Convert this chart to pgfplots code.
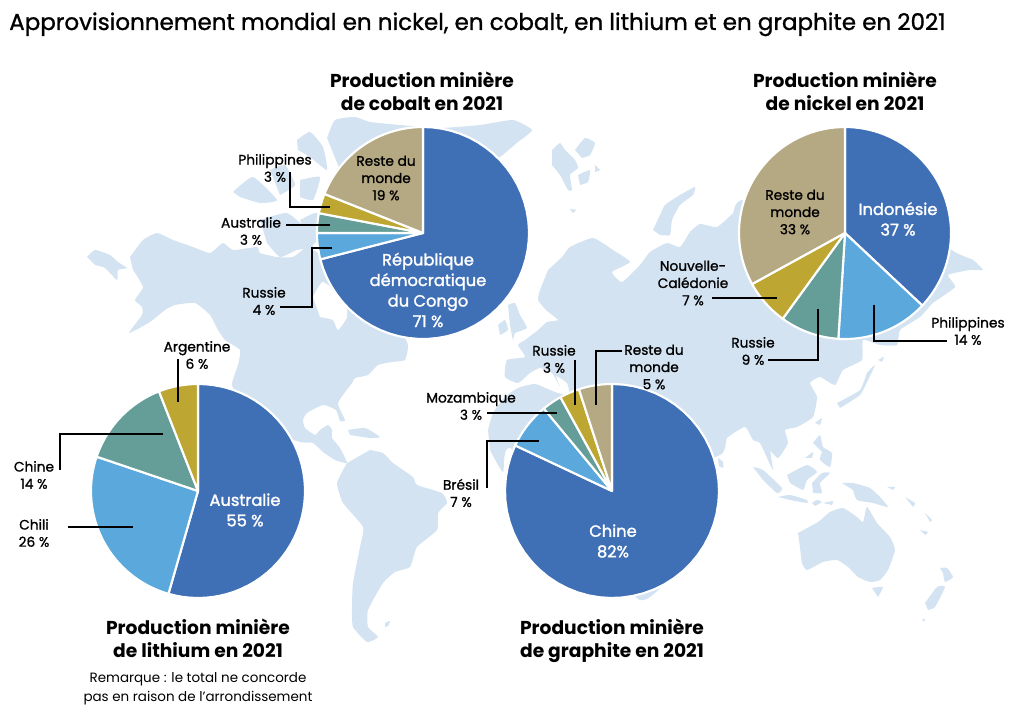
\documentclass[border=0pt]{standalone}
\usepackage{pgfplots}
\pgfplotsset{compat=1.18}
\usepackage{fontspec}
\setmainfont{Poppins}
\newfontfamily\medf[FakeBold=1.1]{Poppins}
\newfontfamily\semif[FakeBold=1.6]{Poppins}
\definecolor{mapb}{HTML}{D4E3F2}
\definecolor{pblue}{HTML}{3F6FB5}
\definecolor{plight}{HTML}{5AA8DC}
\definecolor{pteal}{HTML}{659E98}
\definecolor{pgold}{HTML}{BDA632}
\definecolor{ptan}{HTML}{B5A984}
% #1 cx, #2 cy, #3 r, #4 total, #5 colour, #6 from, #7 to (cumulative values)
\newcommand\slice[7]{\addplot[fill=#5,draw=white,line width=1.6pt,line join=round,domain=#6:#7,samples=50,variable=\t]
  ({#1+#3*sin(360*\t/#4)},{#2-#3*cos(360*\t/#4)}) -- (axis cs:#1,#2) -- cycle;}
\newcommand\terre[1]{\addplot[fill=mapb,draw=none,smooth,tension=0.3] coordinates {#1} -- cycle;}
\newcommand\mer[1]{\addplot[fill=white,draw=none,smooth,tension=0.3] coordinates {#1} -- cycle;}
\newcommand\fil[1]{\addplot[black,line width=2.1pt,line join=miter] coordinates {#1};}
\newcommand\lab[3]{\node[align=center,inner sep=0pt,font=\fontsize{10.3}{12.9}\selectfont\medf] at (axis cs:#1,#2) {#3};}
\newcommand\wlab[3]{\node[align=center,inner sep=0pt,text=white,font=\fontsize{12.2}{15.4}\selectfont\semif] at (axis cs:#1,#2) {#3};}
\newcommand\ttl[3]{\node[align=center,inner sep=0pt,font=\fontsize{14}{17.5}\selectfont\bfseries] at (axis cs:#1,#2) {#3};}
\begin{document}
\begin{tikzpicture}
\path[use as bounding box] (0,0) rectangle (760.5pt,534pt);
\begin{axis}[at={(0,0)},anchor=south west,scale only axis,width=760.5pt,height=534pt,
  xmin=0,xmax=1014,ymin=0,ymax=712,y dir=reverse,hide axis,clip=false]
% --- world map ---
\terre{(130,257)(143,240)(157,233)(173,240)(193,247)(210,253)(223,243)(233,250)(257,247)(260,253)(277,257)(293,257)(307,247)(317,252)(330,250)(420,260)(400,320)(408,345)(405,360)(392,362)(378,365)(368,375)(355,378)(352,383)(338,403)(345,420)(340,421)(336,410)(323,405)(307,413)(303,420)(305,428)(315,435)(320,430)(328,425)(332,430)(332,438)(340,448)(347,463)(335,460)(323,452)(313,443)(300,442)(265,430)(245,410)(232,385)(238,365)(240,350)(225,340)(218,330)(210,315)(195,303)(175,305)(165,310)(150,322)(129,333)(142,315)(142,307)(135,300)(143,287)(133,270)}
\mer{(313,297)(323,282)(345,300)(347,317)(338,330)(333,320)(320,317)}
\terre{(87,257)(95,250)(110,255)(118,262)(127,268)(118,270)(117,280)(105,268)(95,265)}
\terre{(327,138)(335,120)(355,117)(370,122)(400,125)(440,128)(480,125)(513,120)(532,130)(518,142)(500,157)(480,170)(420,230)(340,170)}
\terre{(233,192)(253,177)(277,200)(260,203)(240,197)}
\terre{(297,140)(310,132)(323,147)(327,170)(310,157)(298,150)}
\terre{(300,180)(320,177)(313,200)(300,197)}
\terre{(260,220)(287,213)(307,230)(313,247)(297,250)(280,257)(267,243)}
\terre{(300,220)(317,213)(317,240)(310,247)}
\terre{(270,170)(285,165)(295,185)(280,195)}
\terre{(348,430)(365,428)(380,437)(370,438)(350,435)}
% South America
\terre{(347,463)(337,483)(343,503)(363,527)(360,547)(353,583)(352,607)(353,627)(367,642)(378,637)(368,627)(368,610)(383,583)(395,572)(410,567)(417,547)(437,530)(438,513)(447,503)(442,493)(417,485)(413,477)(393,463)(383,453)(370,450)}
\terre{(385,623)(390,621)(388,626)(385,627)}
% Eurasia
\terre{(540,290)(538,300)(546,310)(558,320)(547,322)(537,331)(525,340)(518,345)(525,357)(507,360)(505,377)(518,383)(530,373)(540,368)(552,373)(560,387)(556,376)(567,383)(570,393)(577,390)(590,387)(600,400)(640,480)(720,455)(727,438)(745,427)(753,440)(760,443)(768,460)(773,470)(770,450)(768,448)(778,458)(788,443)(785,430)(797,427)(813,417)(817,397)(810,383)(820,377)(835,385)(843,370)(862,360)(863,340)(880,345)(897,345)(900,330)(920,317)(933,303)(955,287)(948,275)(970,270)(983,270)(973,260)(952,250)(900,200)(845,180)(742,200)(733,213)(717,227)(700,224)(690,232)(680,247)(667,243)(650,252)(640,265)(622,282)(612,272)(630,262)(613,250)(593,238)(570,247)(562,257)(548,270)}
\terre{(653,230)(660,215)(665,205)(680,195)(695,187)(693,195)(680,205)(672,220)(670,235)(660,235)}
\terre{(552,150)(560,143)(565,150)(575,160)(578,168)(570,175)(572,190)(568,190)(560,175)(552,165)}
\terre{(575,150)(585,138)(595,143)(590,155)(582,158)}
\terre{(578,175)(590,170)(588,182)(580,185)}
\terre{(595,165)(600,170)(595,172)}
\terre{(570,209)(576,210)(573,213)}
\terre{(508,305)(515,303)(520,315)(527,328)(515,333)(513,340)(510,325)}
\terre{(498,325)(505,320)(508,330)(500,335)}
% Africa
\terre{(488,430)(493,413)(505,397)(518,388)(535,384)(555,392)(575,398)(640,420)(700,520)(640,600)(513,450)(503,472)(490,450)}
% Japan and Asia islands
\terre{(837,403)(860,390)(867,373)(875,365)(868,380)(860,395)(840,408)}
\terre{(878,360)(884,357)(882,362)}
\terre{(718,458)(723,462)(723,468)(719,466)}
\terre{(753,467)(763,470)(782,488)(777,493)(763,480)}
\terre{(778,497)(790,495)(807,500)(807,503)(790,500)}
\terre{(787,475)(807,465)(817,472)(807,480)(803,490)(790,483)}
\terre{(812,483)(822,473)(830,473)(820,483)(822,493)(813,493)}
\terre{(813,443)(820,435)(823,447)(832,453)(830,467)(820,460)(822,452)}
\terre{(815,423)(822,418)(820,425)}
\terre{(805,458)(813,452)(812,458)}
\terre{(812,503)(817,500)(822,502)(815,506)}
\terre{(823,503)(833,501)(832,505)}
\terre{(842,483)(853,483)(870,488)(880,497)(888,507)(873,503)(857,500)(853,490)}
\terre{(887,487)(895,487)(893,490)}
\terre{(905,497)(915,503)(913,507)}
\terre{(925,513)(932,520)(930,522)}
\terre{(920,530)(928,532)(925,535)}
% Oceania
\terre{(798,533)(818,522)(830,512)(843,508)(857,517)(863,522)(867,507)(877,523)(890,537)(895,550)(888,570)(880,580)(870,582)(858,577)(848,567)(837,560)(823,562)(807,570)(802,563)(800,547)}
\terre{(872,588)(883,587)(878,597)}
\terre{(925,603)(937,587)(945,587)(935,607)(928,610)}
\terre{(940,568)(947,568)(953,577)(945,582)(943,573)}
\terre{(922,619)(925,619)(924,622)}
% --- cobalt ---
\slice{423}{233}{106}{100}{pblue}{0}{71}
\slice{423}{233}{106}{100}{plight}{71}{75}
\slice{423}{233}{106}{100}{pteal}{75}{78}
\slice{423}{233}{106}{100}{pgold}{78}{81}
\slice{423}{233}{106}{100}{ptan}{81}{100}
% --- nickel ---
\slice{845}{233}{106}{100}{pblue}{0}{37}
\slice{845}{233}{106}{100}{plight}{37}{51}
\slice{845}{233}{106}{100}{pteal}{51}{60}
\slice{845}{233}{106}{100}{pgold}{60}{67}
\slice{845}{233}{106}{100}{ptan}{67}{100}
% --- lithium (values add up to 101) ---
\slice{198}{491}{107}{101}{pblue}{0}{55}
\slice{198}{491}{107}{101}{plight}{55}{81}
\slice{198}{491}{107}{101}{pteal}{81}{95}
\slice{198}{491}{107}{101}{pgold}{95}{101}
% --- graphite ---
\slice{612}{491}{107}{100}{pblue}{0}{82}
\slice{612}{491}{107}{100}{plight}{82}{89}
\slice{612}{491}{107}{100}{pteal}{89}{92}
\slice{612}{491}{107}{100}{pgold}{92}{95}
\slice{612}{491}{107}{100}{ptan}{95}{100}
% --- leaders ---
\fil{(290,172)(290,207)(330,207)}
\fil{(286,225)(330,225)}
\fil{(332,248)(312,248)(312,307)(280,307)}
\fil{(712,298)(777,298)}
\fil{(818,309)(818,360)(768,360)}
\fil{(874,305)(874,341)(947,341)}
\fil{(178,359)(178,402)}
\fil{(60,470)(60,434)(163,434)}
\fil{(68,527)(133,527)}
\fil{(487,413)(557,413)}
\fil{(487,488)(487,441)(539,441)}
\fil{(575,360)(575,405)}
\fil{(622,351)(596,351)(596,405)}
% --- text ---
\node[anchor=base west,inner sep=0pt,font=\fontsize{17.25}{20}\selectfont\medf] at (axis cs:9,30) {Approvisionnement mondial en nickel, en cobalt, en lithium et en graphite en 2021};
\ttl{422}{91}{Production minière\\de cobalt en 2021}
\ttl{845}{91}{Production minière\\de nickel en 2021}
\ttl{198}{638}{Production minière\\de lithium en 2021}
\ttl{612}{641}{Production minière\\de graphite en 2021}
\node[align=center,inner sep=0pt,font=\fontsize{10.1}{14}\selectfont] at (axis cs:198,689) {Remarque : le total ne concorde\\pas en raison de l'arrondissement};
\lab{386}{178}{Reste du\\monde\\19 \%}
\wlab{428}{290}{République\\démocratique\\du Congo\\71 \%}
\lab{275}{168}{Philippines\\3 \%}
\lab{251}{231}{Australie\\3 \%}
\lab{264}{301}{Russie\\4 \%}
\wlab{898}{219}{Indonésie\\37 \%}
\lab{795}{212}{Reste du\\monde\\33 \%}
\lab{693}{283}{Nouvelle-\\Calédonie\\7 \%}
\lab{753}{351}{Russie\\9 \%}
\lab{968}{331}{Philippines\\14 \%}
\wlab{245}{510}{Australie\\55 \%}
\lab{34}{533}{Chili\\26 \%}
\lab{34}{475}{Chine\\14 \%}
\lab{197}{355}{Argentine\\6 \%}
\wlab{613}{541}{Chine\\82\%}
\lab{461}{493}{Brésil\\7 \%}
\lab{471}{406}{Mozambique\\3 \%}
\lab{554}{359}{Russie\\3 \%}
\lab{654}{367}{Reste du\\monde\\5 \%}
\end{axis}
\end{tikzpicture}
\end{document}
